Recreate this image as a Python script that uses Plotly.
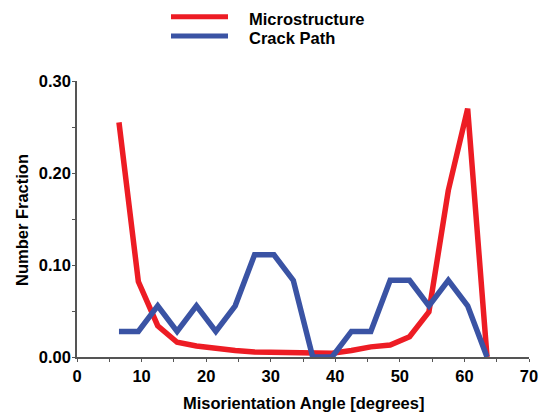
import plotly.graph_objects as go

# Data
angle = [6.5, 9.5, 12.5, 15.5, 18.5, 21.5, 24.5, 27.5, 30.5, 33.5,
         36.5, 39.5, 42.5, 45.5, 48.5, 51.5, 54.5, 57.5, 60.5, 63.5]
microstructure = [0.255, 0.082, 0.034, 0.016, 0.012, 0.009, 0.007, 0.0055, 0.005, 0.0045,
                  0.004, 0.004, 0.007, 0.011, 0.013, 0.022, 0.049, 0.181, 0.270, 0.0]
crack_path = [0.0278, 0.0278, 0.0556, 0.0278, 0.0556, 0.0278, 0.0556, 0.1111, 0.1111, 0.0833,
              0.0, 0.0, 0.0278, 0.0278, 0.0833, 0.0833, 0.0556, 0.0833, 0.0556, 0.0]
series_names = ["Microstructure", "Crack Path"]
x_tickvals = [0, 5, 10, 15, 20, 25, 30, 35, 40, 45, 50, 55, 60, 65, 70]
x_ticktext = ["0", "", "10", "", "20", "", "30", "", "40", "", "50", "", "60", "", "70"]
y_tickvals = [0.0, 0.05, 0.10, 0.15, 0.20, 0.25, 0.30]
y_ticktext = ["0.00", "", "0.10", "", "0.20", "", "0.30"]
x_title = "Misorientation Angle [degrees]"
y_title = "Number Fraction"

W, H = 548, 416
ML, MR, MT, MB = 77, 19, 81, 59
PW, PH = W - ML - MR, H - MT - MB

RED = "#ED1C24"
BLUE = "#3A53A4"
FONT = dict(family="Liberation Sans, Arial, sans-serif", size=16.5, color="black", weight="bold")
AXCOL = "#555555"


def px_x(px):
    return (px - ML) / PW


def px_y(py):
    return (H - MB - py) / PH


fig = go.Figure()
fig.add_trace(go.Scatter(x=angle, y=microstructure, mode="lines", name=series_names[0],
                         line=dict(color=RED, width=5.5), showlegend=False))
fig.add_trace(go.Scatter(x=angle, y=crack_path, mode="lines", name=series_names[1],
                         line=dict(color=BLUE, width=5.5), showlegend=False))

common = dict(showgrid=False, zeroline=False, tickcolor=AXCOL, tickwidth=1.2, automargin=False)

fig.update_layout(
    width=W, height=H,
    margin=dict(l=ML, r=MR, t=MT, b=MB, autoexpand=False),
    paper_bgcolor="white", plot_bgcolor="white",
    font=FONT,
    xaxis=dict(range=[0, 70], tickmode="array", tickvals=x_tickvals, ticktext=x_ticktext,
               ticks="outside", ticklen=3, tickfont=FONT, showline=True, linecolor=AXCOL,
               linewidth=1.5, **common),
    yaxis=dict(range=[0, 0.30], tickmode="array", tickvals=y_tickvals, ticktext=y_ticktext,
               ticks="outside", ticklen=3, tickfont=FONT, showline=True, linecolor=AXCOL,
               linewidth=1.5, ticklabelstandoff=-2, **common),
    xaxis2=dict(range=[0, 70], overlaying="x", anchor="y", tickmode="array", tickvals=x_tickvals,
                ticktext=[""] * len(x_tickvals), ticks="inside", ticklen=3, showline=False,
                side="bottom", **common),
    yaxis2=dict(range=[0, 0.30], overlaying="y", anchor="x", tickmode="array", tickvals=y_tickvals,
                ticktext=[""] * len(y_tickvals), ticks="inside", ticklen=3, showline=False,
                side="left", **common),
)

# Axis titles
fig.add_annotation(xref="paper", yref="paper", x=px_x(303), y=px_y(403), text=x_title,
                   showarrow=False, xanchor="center", yanchor="middle", font=FONT)
fig.add_annotation(xref="paper", yref="paper", x=px_x(22), y=px_y(220), text=y_title,
                   showarrow=False, xanchor="center", yanchor="middle", font=FONT, textangle=-90)

# Manual legend
legend_colors = [RED, BLUE]
legend_line_y = [16.7, 36]
legend_text_y = [19, 38]
for name, col, ly, ty in zip(series_names, legend_colors, legend_line_y, legend_text_y):
    fig.add_shape(type="line", xref="paper", yref="paper",
                  x0=px_x(171), x1=px_x(228), y0=px_y(ly), y1=px_y(ly),
                  line=dict(color=col, width=5))
    fig.add_annotation(xref="paper", yref="paper", x=px_x(247), y=px_y(ty),
                       text=name, showarrow=False, xanchor="left", yanchor="middle", font=FONT)

fig.write_html("out.html", config={"displayModeBar": False},
               post_script="document.body.style.margin='0';document.body.style.padding='0';")
